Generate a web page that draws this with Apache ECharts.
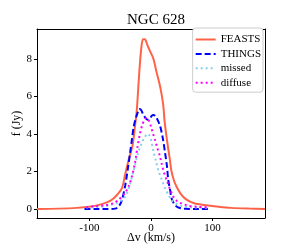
<!DOCTYPE html>
<html><head><meta charset="utf-8">
<script src="https://cdn.jsdelivr.net/npm/echarts@6/dist/echarts.min.js"></script>
<style>html,body{margin:0;padding:0;background:#fff}#c{width:294px;height:245px}</style>
</head><body><div id="c"></div>
<script>
const feastsX = [-185,-150,-120,-100,-80,-65,-56,-47,-42,-36,-30,-26,-23,-19,-16,-13,-10,-6,-2,4,9,14,17,20,22,25,28,31,33,37,41,48,57,70,90,110,130,160,185];
const feastsY = [0,0.02,0.06,0.12,0.26,0.46,0.72,1.13,1.84,2.66,3.38,4.4,5.3,7.3,8.5,9.05,9.05,8.75,8.45,8.0,7.3,6.65,6.15,5.5,4.7,3.9,3.2,2.55,2.05,1.55,1.23,0.82,0.51,0.31,0.2,0.12,0.06,0.02,0];
const thingsX = [-108,-90,-70,-58,-52,-47,-42,-38,-34,-31,-28,-25,-22,-19,-16,-13,-9,-5,-2,1,4,8,12,15,19,23,26,28,31,33,37,41,47,55,70,95];
const thingsY = [0,0,0,0.02,0.15,0.5,1.23,2.05,2.97,3.7,4.4,4.8,5.1,5.33,5.28,5.07,4.86,4.76,4.8,4.97,5.02,4.92,4.66,4.4,3.8,2.97,2.25,1.54,1.02,0.61,0.31,0.15,0.05,0.01,0,0];
const missedX = [-105,-90,-75,-60,-50,-43,-38,-34,-30,-26,-22,-18,-14,-10,-6,-3,0,4,8,12,16,20,24,28,32,36,42,50,60,75,95];
const missedY = [0.08,0.1,0.15,0.26,0.41,0.61,0.92,1.33,1.84,2.35,2.87,3.28,3.58,3.84,4.0,3.94,3.69,3.07,2.56,2.05,1.69,1.33,1.02,0.77,0.56,0.41,0.26,0.15,0.1,0.08,0.06];
const diffuseX = [-105,-90,-75,-61,-52,-42,-36,-31,-26,-22,-18,-14,-10,-7,-4,0,3,6.5,10,14,17,21,25.5,30,36,42,50,60,75,95];
const diffuseY = [0.1,0.15,0.2,0.31,0.51,0.87,1.23,1.74,2.46,3.3,4.0,4.5,4.8,4.86,4.76,4.4,4.04,3.69,3.28,2.87,2.46,1.95,1.54,1.13,0.67,0.43,0.29,0.18,0.12,0.08];
const xTicks = [-100,0,100];
const yTicks = [0,2,4,6,8];

const zip = (a,b) => a.map((v,i)=>[v,b[i]]);
const serif = "'Liberation Serif','DejaVu Serif',serif";
const chart = echarts.init(document.getElementById('c'), null, {renderer:'canvas'});
const frameAxis = {show:true, axisLine:{show:true, onZero:false, lineStyle:{color:'#000'}},
  axisTick:{show:false}, axisLabel:{show:false}, splitLine:{show:false}};
chart.setOption({
  animation:false,
  title:{text:'NGC 628', left:151, top:8, textAlign:'center',
    textStyle:{fontFamily:serif, fontSize:15, fontWeight:'normal', color:'#000'}},
  grid:{left:37, right:29, top:29, bottom:27, outerBoundsMode:'none', containLabel:false,
    show:false},
  legend:{
    right:31, top:28, orient:'vertical', itemGap:3.4, itemWidth:20, itemHeight:11,
    backgroundColor:'#fff', borderColor:'#ccc', borderWidth:1, borderRadius:3, padding:[6,2,4,2],
    itemStyle:{opacity:0},
    textStyle:{fontFamily:serif, fontSize:11, color:'#000'},
    data:['FEASTS','THINGS','missed','diffuse']
  },
  xAxis:[{type:'value', min:-185, max:185, position:'bottom',
    name:'Δv (km/s)', nameLocation:'middle', nameGap:14, nameMoveOverlap:false,
    nameTextStyle:{fontFamily:serif, fontSize:12, color:'#000'},
    axisLine:{show:true, onZero:false, lineStyle:{color:'#000'}},
    axisTick:{show:true, length:3, customValues:xTicks, lineStyle:{color:'#000'}},
    axisLabel:{fontFamily:serif, fontSize:11, color:'#000', margin:5, customValues:xTicks},
    splitLine:{show:false}},
    Object.assign({type:'value', min:-185, max:185, position:'top'}, frameAxis)],
  yAxis:[{type:'value', min:-0.48, max:9.6, position:'left',
    name:'f (Jy)', nameLocation:'middle', nameGap:14, nameMoveOverlap:false,
    nameTextStyle:{fontFamily:serif, fontSize:12, color:'#000'},
    axisLine:{show:true, onZero:false, lineStyle:{color:'#000'}},
    axisTick:{show:true, length:3, customValues:yTicks, lineStyle:{color:'#000'}},
    axisLabel:{fontFamily:serif, fontSize:11, color:'#000', margin:5, customValues:yTicks},
    splitLine:{show:false}},
    Object.assign({type:'value', min:-0.48, max:9.6, position:'right'}, frameAxis)],
  series:[
    {name:'FEASTS', type:'line', data:zip(feastsX,feastsY), smooth:0.3, showSymbol:false, symbol:'none', z:2,
      lineStyle:{color:'#ff6347', width:2}, itemStyle:{color:'#ff6347'}},
    {name:'THINGS', type:'line', data:zip(thingsX,thingsY), smooth:0.3, showSymbol:false, symbol:'none', z:3,
      lineStyle:{color:'#0000ff', width:2, type:[6,3]}, itemStyle:{color:'#0000ff'}},
    {name:'missed', type:'line', data:zip(missedX,missedY), smooth:0.3, showSymbol:false, symbol:'none', z:4,
      lineStyle:{color:'#87ceeb', width:2, type:[2,3]}, itemStyle:{color:'#87ceeb'}},
    {name:'diffuse', type:'line', data:zip(diffuseX,diffuseY), smooth:0.3, showSymbol:false, symbol:'none', z:5,
      lineStyle:{color:'#ff00ff', width:2, type:[2,3]}, itemStyle:{color:'#ff00ff'}}
  ]
});
</script></body></html>
